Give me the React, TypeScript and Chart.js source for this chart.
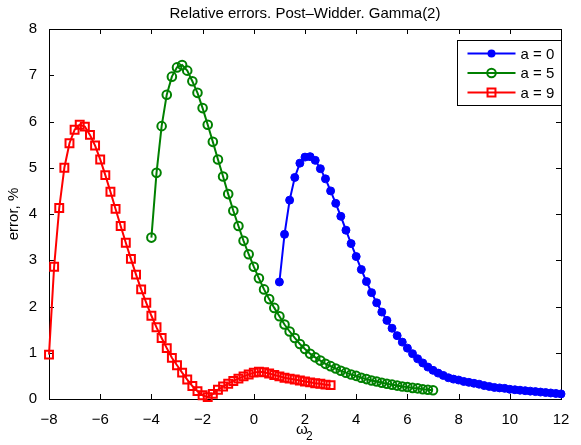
import React, { useEffect, useRef } from 'react';
import { Chart, registerables } from 'chart.js';

Chart.register(...registerables);

const FONT = "'Liberation Sans', Arial, Helvetica, sans-serif";

const titleText = 'Relative errors. Post\u2013Widder. Gamma(2)';
const yTitle = 'error, %';
const xTitleMain = '\u03c9';
const xTitleSub = '2';

const seriesLabels = ['a = 0', 'a = 5', 'a = 9'];
const seriesColors = ['#0000ff', '#008000', '#ff0000'];

const blueX = [1, 1.2, 1.4, 1.6, 1.8, 2, 2.2, 2.4, 2.6, 2.8, 3, 3.2, 3.4, 3.6, 3.8, 4, 4.2, 4.4, 4.6, 4.8, 5, 5.2, 5.4, 5.6, 5.8, 6, 6.2, 6.4, 6.6, 6.8, 7, 7.2, 7.4, 7.6, 7.8, 8, 8.2, 8.4, 8.6, 8.8, 9, 9.2, 9.4, 9.6, 9.8, 10, 10.2, 10.4, 10.6, 10.8, 11, 11.2, 11.4, 11.6, 11.8, 12];
const blueY = [2.53, 3.56, 4.30, 4.79, 5.10, 5.23, 5.24, 5.16, 4.98, 4.76, 4.50, 4.23, 3.95, 3.65, 3.36, 3.08, 2.80, 2.54, 2.30, 2.08, 1.88, 1.70, 1.53, 1.37, 1.23, 1.10, 0.98, 0.87, 0.78, 0.69, 0.62, 0.56, 0.51, 0.46, 0.43, 0.41, 0.38, 0.36, 0.34, 0.32, 0.29, 0.27, 0.25, 0.24, 0.23, 0.21, 0.20, 0.19, 0.18, 0.17, 0.16, 0.15, 0.14, 0.13, 0.12, 0.11];

const greenX = [-4, -3.8, -3.6, -3.4, -3.2, -3, -2.8, -2.6, -2.4, -2.2, -2, -1.8, -1.6, -1.4, -1.2, -1, -0.8, -0.6, -0.4, -0.2, 0, 0.2, 0.4, 0.6, 0.8, 1, 1.2, 1.4, 1.6, 1.8, 2, 2.2, 2.4, 2.6, 2.8, 3, 3.2, 3.4, 3.6, 3.8, 4, 4.2, 4.4, 4.6, 4.8, 5, 5.2, 5.4, 5.6, 5.8, 6, 6.2, 6.4, 6.6, 6.8, 7];
const greenY = [3.49, 4.89, 5.90, 6.58, 6.97, 7.17, 7.22, 7.10, 6.87, 6.62, 6.29, 5.93, 5.56, 5.18, 4.81, 4.43, 4.07, 3.74, 3.42, 3.13, 2.86, 2.61, 2.37, 2.16, 1.97, 1.79, 1.61, 1.46, 1.32, 1.19, 1.08, 0.98, 0.90, 0.83, 0.76, 0.71, 0.66, 0.61, 0.57, 0.53, 0.50, 0.46, 0.43, 0.40, 0.38, 0.35, 0.33, 0.31, 0.29, 0.27, 0.26, 0.24, 0.23, 0.21, 0.20, 0.19];

const redX = [-8, -7.8, -7.6, -7.4, -7.2, -7, -6.8, -6.6, -6.4, -6.2, -6, -5.8, -5.6, -5.4, -5.2, -5, -4.8, -4.6, -4.4, -4.2, -4, -3.8, -3.6, -3.4, -3.2, -3, -2.8, -2.6, -2.4, -2.2, -2, -1.8, -1.6, -1.4, -1.2, -1, -0.8, -0.6, -0.4, -0.2, 0, 0.2, 0.4, 0.6, 0.8, 1, 1.2, 1.4, 1.6, 1.8, 2, 2.2, 2.4, 2.6, 2.8, 3];
const redY = [0.96, 2.86, 4.13, 5.00, 5.53, 5.82, 5.93, 5.89, 5.71, 5.48, 5.18, 4.84, 4.48, 4.11, 3.74, 3.38, 3.03, 2.69, 2.37, 2.08, 1.80, 1.55, 1.32, 1.10, 0.89, 0.73, 0.57, 0.42, 0.28, 0.17, 0.08, 0.04, 0.11, 0.20, 0.27, 0.33, 0.39, 0.44, 0.49, 0.53, 0.57, 0.59, 0.58, 0.55, 0.52, 0.49, 0.46, 0.44, 0.42, 0.40, 0.38, 0.36, 0.34, 0.33, 0.31, 0.30];

const xMin = -8, xMax = 12, xStep = 2;
const yMin = 0, yMax = 8, yStep = 1;

const toPoints = (xs: number[], ys: number[]) => xs.map((x, i) => ({ x, y: ys[i] }));
const fmt = (v: number) => String(v).replace('-', '\u2212');

function drawMarker(ctx: CanvasRenderingContext2D, style: string, x: number, y: number, r: number, color: string, bw: number) {
  ctx.save();
  ctx.strokeStyle = color;
  ctx.fillStyle = color;
  ctx.lineWidth = bw;
  ctx.beginPath();
  if (style === 'rect') {
    const s = r * Math.SQRT1_2;
    ctx.rect(x - s, y - s, 2 * s, 2 * s);
    ctx.stroke();
  } else if (style === 'filled') {
    ctx.arc(x, y, r, 0, Math.PI * 2);
    ctx.fill();
  } else {
    ctx.arc(x, y, r, 0, Math.PI * 2);
    ctx.stroke();
  }
  ctx.restore();
}

const axesPlugin = {
  id: 'matlabAxes',
  beforeDatasetsDraw(chart: any) {
    const { ctx, chartArea: a, scales } = chart;
    ctx.save();
    ctx.strokeStyle = '#000';
    ctx.lineWidth = 1;
    ctx.strokeRect(Math.round(a.left) + 0.5, Math.round(a.top) + 0.5, Math.round(a.right - a.left), Math.round(a.bottom - a.top));
    const tl = 5;
    ctx.beginPath();
    scales.x.ticks.forEach((t: any) => {
      const px = Math.round(scales.x.getPixelForValue(t.value)) + 0.5;
      ctx.moveTo(px, a.bottom);
      ctx.lineTo(px, a.bottom - tl);
      ctx.moveTo(px, a.top);
      ctx.lineTo(px, a.top + tl);
    });
    scales.y.ticks.forEach((t: any) => {
      const py = Math.round(scales.y.getPixelForValue(t.value)) + 0.5;
      ctx.moveTo(a.left, py);
      ctx.lineTo(a.left + tl, py);
      ctx.moveTo(a.right, py);
      ctx.lineTo(a.right - tl, py);
    });
    ctx.stroke();
    ctx.restore();
  },
  afterDraw(chart: any) {
    const { ctx, chartArea: a } = chart;
    // x axis title with subscript
    const cx = (a.left + a.right) / 2;
    ctx.save();
    ctx.fillStyle = '#000';
    ctx.textAlign = 'left';
    ctx.textBaseline = 'alphabetic';
    ctx.font = `15px ${FONT}`;
    ctx.fillText(xTitleMain, cx - 9, a.bottom + 35);
    ctx.font = `12px ${FONT}`;
    ctx.fillText(xTitleSub, cx + 1, a.bottom + 41);
    ctx.restore();

    // legend
    const w = 104, h = 65;
    const x0 = Math.round(a.right - w) + 0.5;
    const y0 = Math.round(a.top + 11) + 0.5;
    ctx.save();
    ctx.fillStyle = '#fff';
    ctx.fillRect(x0, y0, w, h);
    ctx.strokeStyle = '#000';
    ctx.lineWidth = 1;
    ctx.strokeRect(x0, y0, w, h);
    const styles = ['filled', 'circle', 'rect'];
    chart.data.datasets.forEach((ds: any, i: number) => {
      const ry = y0 + 13 + i * 19.5;
      ctx.strokeStyle = ds.borderColor;
      ctx.lineWidth = 2;
      ctx.beginPath();
      ctx.moveTo(x0 + 10, ry);
      ctx.lineTo(x0 + 58, ry);
      ctx.stroke();
      drawMarker(ctx, styles[i], x0 + 34, ry, ds.pointRadius, ds.borderColor, ds.pointBorderWidth);
      ctx.fillStyle = '#000';
      ctx.font = `15px ${FONT}`;
      ctx.textAlign = 'left';
      ctx.textBaseline = 'middle';
      ctx.fillText(ds.label, x0 + 63, ry + 1);
    });
    ctx.restore();
  },
};

export default function App() {
  const ref = useRef<HTMLCanvasElement>(null);
  useEffect(() => {
    document.body.style.margin = '0';
    const mk = (label: string, color: string, xs: number[], ys: number[], pointStyle: string, radius: number, filled: boolean) => ({
      label,
      data: toPoints(xs, ys),
      showLine: true,
      borderColor: color,
      backgroundColor: filled ? color : 'rgba(0,0,0,0)',
      borderWidth: 2,
      pointStyle,
      pointRadius: radius,
      pointBorderWidth: filled ? 1 : 2,
      pointBorderColor: color,
      pointBackgroundColor: filled ? color : 'rgba(0,0,0,0)',
      tension: 0,
      clip: false as any,
    });
    const chart = new Chart(ref.current as HTMLCanvasElement, {
      type: 'scatter',
      data: {
        datasets: [
          mk(seriesLabels[0], seriesColors[0], blueX, blueY, 'circle', 4, true),
          mk(seriesLabels[1], seriesColors[1], greenX, greenY, 'circle', 4.3, false),
          mk(seriesLabels[2], seriesColors[2], redX, redY, 'rect', 5.6, false),
        ] as any,
      },
      options: {
        responsive: false,
        devicePixelRatio: 1,
        animation: false,
        layout: { padding: { left: 0, right: 20, top: 0, bottom: 0 } },
        plugins: {
          legend: { display: false },
          tooltip: { enabled: false },
          title: {
            display: true,
            fullSize: false,
            text: titleText,
            color: '#000',
            font: { family: FONT, size: 15, weight: 'normal' as any, lineHeight: 1.2 },
            padding: { top: 5, bottom: 6 },
          },
        },
        scales: {
          x: {
            type: 'linear',
            min: xMin,
            max: xMax,
            grid: { display: false },
            border: { display: false },
            ticks: {
              stepSize: xStep,
              padding: 4,
              color: '#000',
              font: { family: FONT, size: 15 },
              callback: (v: any) => fmt(v),
            },
            afterFit: (s: any) => { s.height = 46; },
          },
          y: {
            type: 'linear',
            min: yMin,
            max: yMax,
            grid: { display: false },
            border: { display: false },
            title: {
              display: true,
              text: yTitle,
              color: '#000',
              font: { family: FONT, size: 15, lineHeight: 1.2 },
              padding: { top: 5, bottom: 0 },
            },
            ticks: {
              stepSize: yStep,
              padding: 4,
              color: '#000',
              font: { family: FONT, size: 15 },
              callback: (v: any) => fmt(v),
            },
            afterFit: (s: any) => { s.width = 49; },
          },
        },
      } as any,
      plugins: [axesPlugin],
    });
    return () => chart.destroy();
  }, []);
  return (
    <div style={{ position: 'fixed', left: 0, top: 0, width: 581, height: 445, background: '#fff' }}>
      <canvas ref={ref} width={581} height={445} style={{ display: 'block', width: 581, height: 445 }} />
    </div>
  );
}
